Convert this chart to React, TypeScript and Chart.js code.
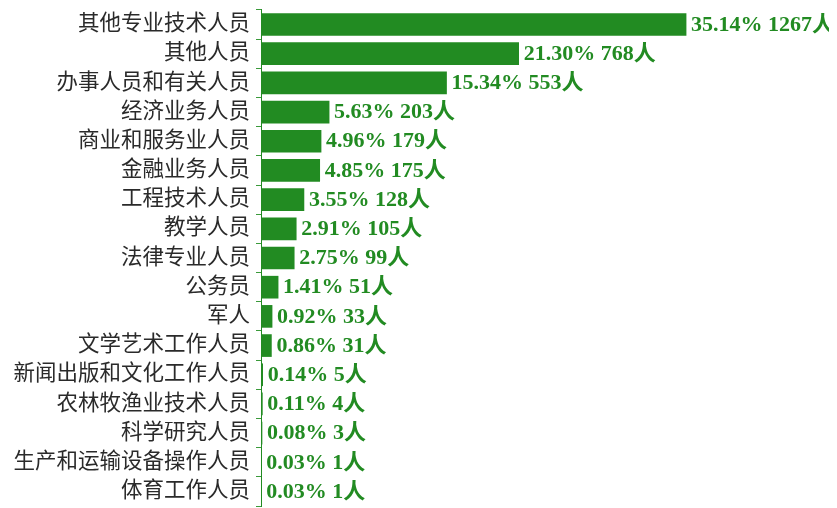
import React, { useEffect, useRef } from "react";
import { Chart, registerables } from "chart.js";

Chart.register(...registerables);

const categories = [
  "其他专业技术人员",
  "其他人员",
  "办事人员和有关人员",
  "经济业务人员",
  "商业和服务业人员",
  "金融业务人员",
  "工程技术人员",
  "教学人员",
  "法律专业人员",
  "公务员",
  "军人",
  "文学艺术工作人员",
  "新闻出版和文化工作人员",
  "农林牧渔业技术人员",
  "科学研究人员",
  "生产和运输设备操作人员",
  "体育工作人员",
];

const counts = [1267, 768, 553, 203, 179, 175, 128, 105, 99, 51, 33, 31, 5, 4, 3, 1, 1];

const percents = [
  "35.14%", "21.30%", "15.34%", "5.63%", "4.96%", "4.85%", "3.55%", "2.91%", "2.75%",
  "1.41%", "0.92%", "0.86%", "0.14%", "0.11%", "0.08%", "0.03%", "0.03%",
];

const GREEN = "#228B22";

const valueLabelPlugin = {
  id: "valueLabels",
  afterDatasetsDraw(chart: any) {
    const ctx = chart.ctx;
    const meta = chart.getDatasetMeta(0);
    ctx.save();
    ctx.fillStyle = GREEN;
    ctx.font = 'bold 22px "Liberation Serif", "Noto Sans CJK SC", serif';
    ctx.textAlign = "left";
    ctx.textBaseline = "middle";
    meta.data.forEach((bar: any, i: number) => {
      ctx.fillText(`${percents[i]} ${counts[i]}人`, bar.x + 5, bar.y + 0.5);
    });
    ctx.restore();
  },
};

export default function App() {
  const ref = useRef<HTMLCanvasElement | null>(null);
  useEffect(() => {
    if (!ref.current) return;
    const chart = new Chart(ref.current, {
      type: "bar",
      data: {
        labels: categories,
        datasets: [
          {
            data: counts,
            backgroundColor: GREEN,
            borderWidth: 0,
            barThickness: 22,
          },
        ],
      },
      options: {
        indexAxis: "y",
        animation: false,
        responsive: false,
        layout: { padding: { top: 1, bottom: 1, left: 0, right: 8 } },
        plugins: { legend: { display: false }, tooltip: { enabled: false } },
        scales: {
          x: { display: false, min: 0, max: 1693 },
          y: {
            afterFit: (scale: any) => {
              scale.width = 253;
            },
            grid: {
              display: true,
              drawOnChartArea: false,
              drawTicks: true,
              tickLength: 5,
              color: "#3a9a3a",
              offset: true,
            },
            border: { display: true, color: GREEN, width: 1 },
            ticks: {
              color: "#2a2a2a",
              padding: 6,
              autoSkip: false,
              font: { family: '"Liberation Serif", "Noto Sans CJK SC", serif', size: 21.5 },
            },
          },
        },
      },
      plugins: [valueLabelPlugin],
    });
    return () => chart.destroy();
  }, []);
  return (
    <div>
      <canvas ref={ref} width={829} height={534} style={{ display: "block", marginTop: -17 }} />
    </div>
  );
}
